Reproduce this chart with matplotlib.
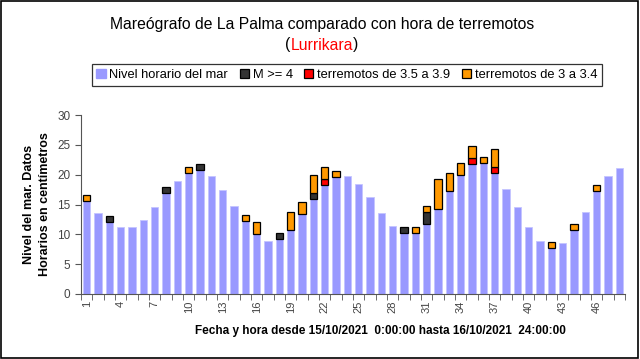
import numpy as np
import matplotlib
matplotlib.use("Agg")
import matplotlib.pyplot as plt
from matplotlib.patches import Patch, Rectangle
from matplotlib.offsetbox import TextArea, HPacker, AnchoredOffsetbox

plt.rcParams['font.family'] = ['Liberation Sans', 'DejaVu Sans']

# hourly sea level (cm), 48 hours
nivel = [15.6, 13.6, 12.1, 11.2, 11.2, 12.4, 14.5, 16.9, 18.9, 20.3,
         20.8, 19.7, 17.4, 14.7, 12.3, 10.1, 8.9, 9.2, 10.8, 13.4,
         16.0, 18.3, 19.6, 19.8, 18.5, 16.2, 13.5, 11.4, 10.2, 10.2,
         11.8, 14.3, 17.3, 20.0, 21.8, 21.9, 20.3, 17.6, 14.5, 11.3,
         8.8, 7.7, 8.5, 10.7, 13.8, 17.2, 19.7, 21.1]

# earthquake counts per hour (stacked on top)
m4 = [0, 0, 1, 0, 0, 0, 0, 1, 0, 0,
      1, 0, 0, 0, 0, 0, 0, 1, 0, 0,
      1, 0, 0, 0, 0, 0, 0, 0, 1, 0,
      2, 0, 0, 0, 0, 0, 0, 0, 0, 0,
      0, 0, 0, 0, 0, 0, 0, 0]
m35 = [0, 0, 0, 0, 0, 0, 0, 0, 0, 0,
       0, 0, 0, 0, 0, 0, 0, 0, 0, 0,
       0, 1, 0, 0, 0, 0, 0, 0, 0, 0,
       0, 0, 0, 0, 1, 0, 1, 0, 0, 0,
       0, 0, 0, 0, 0, 0, 0, 0]
m3 = [1, 0, 0, 0, 0, 0, 0, 0, 0, 1,
      0, 0, 0, 0, 1, 2, 0, 0, 3, 2,
      3, 2, 1, 0, 0, 0, 0, 0, 0, 1,
      1, 5, 3, 2, 2, 1, 3, 0, 0, 0,
      0, 1, 0, 1, 0, 1, 0, 0]

labels = ["Nivel horario del mar", "M >= 4", "terremotos de 3.5 a 3.9", "terremotos de 3 a 3.4"]
colors = ["#9999FF", "#333333", "#FF0000", "#FF9900"]

x = np.arange(len(nivel))
w = 0.62

fig = plt.figure(figsize=(6.4, 3.59), dpi=100)
ax = fig.add_axes([81/640, 1 - 294/359, (625 - 81)/640, (294 - 115)/359])

ax.bar(x, nivel, w, color=colors[0], edgecolor="#C4C4FF", linewidth=0.6)
bottom = np.array(nivel)
for vals, c in zip([m4, m35, m3], colors[1:]):
    vals = np.array(vals, dtype=float)
    mask = vals > 0
    ax.bar(x[mask], vals[mask], w, bottom=bottom[mask], color=c,
           edgecolor="black", linewidth=0.9)
    bottom = bottom + vals

ax.set_xlim(-0.5, len(nivel) - 0.5)
ax.set_ylim(0, 30)
ax.set_yticks(range(0, 31, 5))
ax.set_xticks(x[::3])
ax.set_xticklabels([str(i + 1) for i in x[::3]], rotation=90)
ax.set_xticks(np.arange(-0.5, len(nivel), 1), minor=True)
ax.tick_params(axis='x', which='major', length=0, pad=5, labelsize=8, labelcolor="#444444")
ax.tick_params(axis='x', which='minor', length=4, color="#555555", direction='out')
ax.tick_params(axis='y', length=4, color="#555555", direction='out', labelsize=8.5, labelcolor="#444444")

for s in ['top', 'right']:
    ax.spines[s].set_visible(False)
for s in ['left', 'bottom']:
    ax.spines[s].set_color("#555555")
    ax.spines[s].set_linewidth(0.8)

ax.set_ylabel("Nivel del mar. Datos\nHorarios en centímetros", fontsize=9, fontweight='bold',
              linespacing=1.4)
ax.yaxis.set_label_coords(-0.056, 0.5)
fig.text(0.595, 1 - 331/359, "Fecha y hora desde 15/10/2021  0:00:00 hasta 16/10/2021  24:00:00",
         ha='center', va='center', fontsize=8.5, fontweight='bold')

# title
fs_t = 11.3
fig.text(322/640, 1 - 24/359, "Mareógrafo de La Palma comparado con hora de terremotos",
         ha='center', va='center', fontsize=fs_t)
parts = [TextArea("(", textprops=dict(fontsize=fs_t, color='black')),
         TextArea("Lurrikara", textprops=dict(fontsize=fs_t, color='red')),
         TextArea(")", textprops=dict(fontsize=fs_t, color='black'))]
box = HPacker(children=parts, align='baseline', pad=0, sep=0)
anch = AnchoredOffsetbox(loc='center', child=box, pad=0, borderpad=0, frameon=False,
                         bbox_to_anchor=(322/640, 1 - 45/359), bbox_transform=fig.transFigure)
fig.add_artist(anch)

handles = [Patch(facecolor=colors[0], edgecolor=colors[0])] + \
          [Patch(facecolor=c, edgecolor='black', linewidth=0.9) for c in colors[1:]]
leg = fig.legend(handles, labels, loc='center', bbox_to_anchor=(347/640, 1 - 75/359), ncol=4,
                 fontsize=9.3, handlelength=0.7, handleheight=0.7, handletextpad=0.3,
                 columnspacing=0.9, borderpad=0.35, fancybox=False, edgecolor='black')
leg.get_frame().set_linewidth(0.9)

# outer frame
fig.add_artist(Rectangle((0.001, 0.002), 0.996, 0.995, transform=fig.transFigure,
                         fill=False, edgecolor='black', linewidth=1.2))

fig.savefig("out.png", dpi=100)
